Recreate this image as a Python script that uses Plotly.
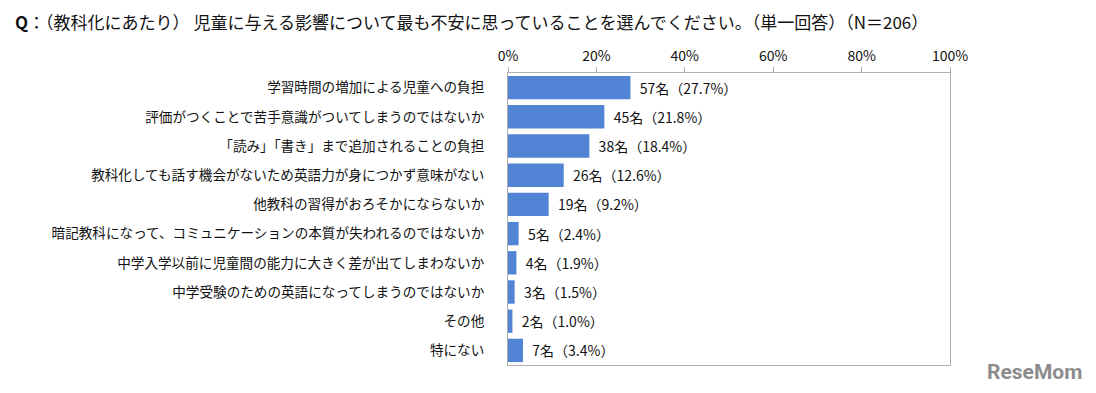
import plotly.graph_objects as go

categories = [
    "学習時間の増加による児童への負担",
    "評価がつくことで苦手意識がついてしまうのではないか",
    "「読み」「書き」まで追加されることの負担",
    "教科化しても話す機会がないため英語力が身につかず意味がない",
    "他教科の習得がおろそかにならないか",
    "暗記教科になって、コミュニケーションの本質が失われるのではないか",
    "中学入学以前に児童間の能力に大きく差が出てしまわないか",
    "中学受験のための英語になってしまうのではないか",
    "その他",
    "特にない",
]
counts = [57, 45, 38, 26, 19, 5, 4, 3, 2, 7]
percents = [27.7, 21.8, 18.4, 12.6, 9.2, 2.4, 1.9, 1.5, 1.0, 3.4]
tick_vals = [0, 20, 40, 60, 80, 100]
tick_text = ["0%", "20%", "40%", "60%", "80%", "100%"]

labels = [f"  {c}名（{p:.1f}%）" for c, p in zip(counts, percents)]

FONT = "Noto Sans CJK JP"

# page body has an 8px margin, so the figure is sized/positioned accordingly
W, H = 1088, 385
PL, PR, PT, PB = 500, 942, 65, 357

fig = go.Figure(
    go.Bar(
        x=percents,
        y=categories,
        orientation="h",
        marker=dict(color="#5184d4", line=dict(width=0)),
        width=0.8,
        text=labels,
        textposition="outside",
        textfont=dict(family=FONT, size=14, color="#111111"),
        cliponaxis=False,
    )
)

fig.update_layout(
    width=W,
    height=H,
    margin=dict(l=PL, r=W - PR, t=PT, b=H - PB, autoexpand=False),
    paper_bgcolor="white",
    plot_bgcolor="white",
    showlegend=False,
    font=dict(family=FONT, color="#111111"),
    title=dict(
        text="<b>Q</b>：（教科化にあたり） 児童に与える影響について最も不安に思っていることを選んでください。（単一回答）（N＝206）",
        x=7 / W,
        xanchor="left",
        xref="container",
        yref="container",
        y=1 - 15 / H,
        yanchor="middle",
        font=dict(family=FONT, size=17, color="#111111"),
    ),
    xaxis=dict(
        side="top",
        range=[0, 100],
        tickvals=tick_vals,
        ticktext=tick_text,
        ticks="outside",
        ticklen=5,
        tickcolor="#b0b0b0",
        showgrid=False,
        zeroline=False,
        showline=True,
        linecolor="#b0b0b0",
        linewidth=1,
        mirror=True,
        tickfont=dict(family=FONT, size=14, color="#111111"),
        fixedrange=True,
    ),
    yaxis=dict(
        autorange="reversed",
        showgrid=False,
        zeroline=False,
        showline=True,
        linecolor="#b0b0b0",
        linewidth=1,
        mirror=True,
        ticks="",
        ticklabelstandoff=20,
        tickfont=dict(family=FONT, size=13.6, color="#111111"),
    ),
    annotations=[
        dict(
            text="<b>ReseMom</b>",
            xref="paper",
            yref="paper",
            x=(1026 - PL) / (PR - PL),
            y=-(364 - PB) / (PB - PT),
            xanchor="center",
            yanchor="middle",
            showarrow=False,
            font=dict(family="Roboto", size=21, color="#8c8c8c"),
        )
    ],
)

fig.write_html("out.html")
